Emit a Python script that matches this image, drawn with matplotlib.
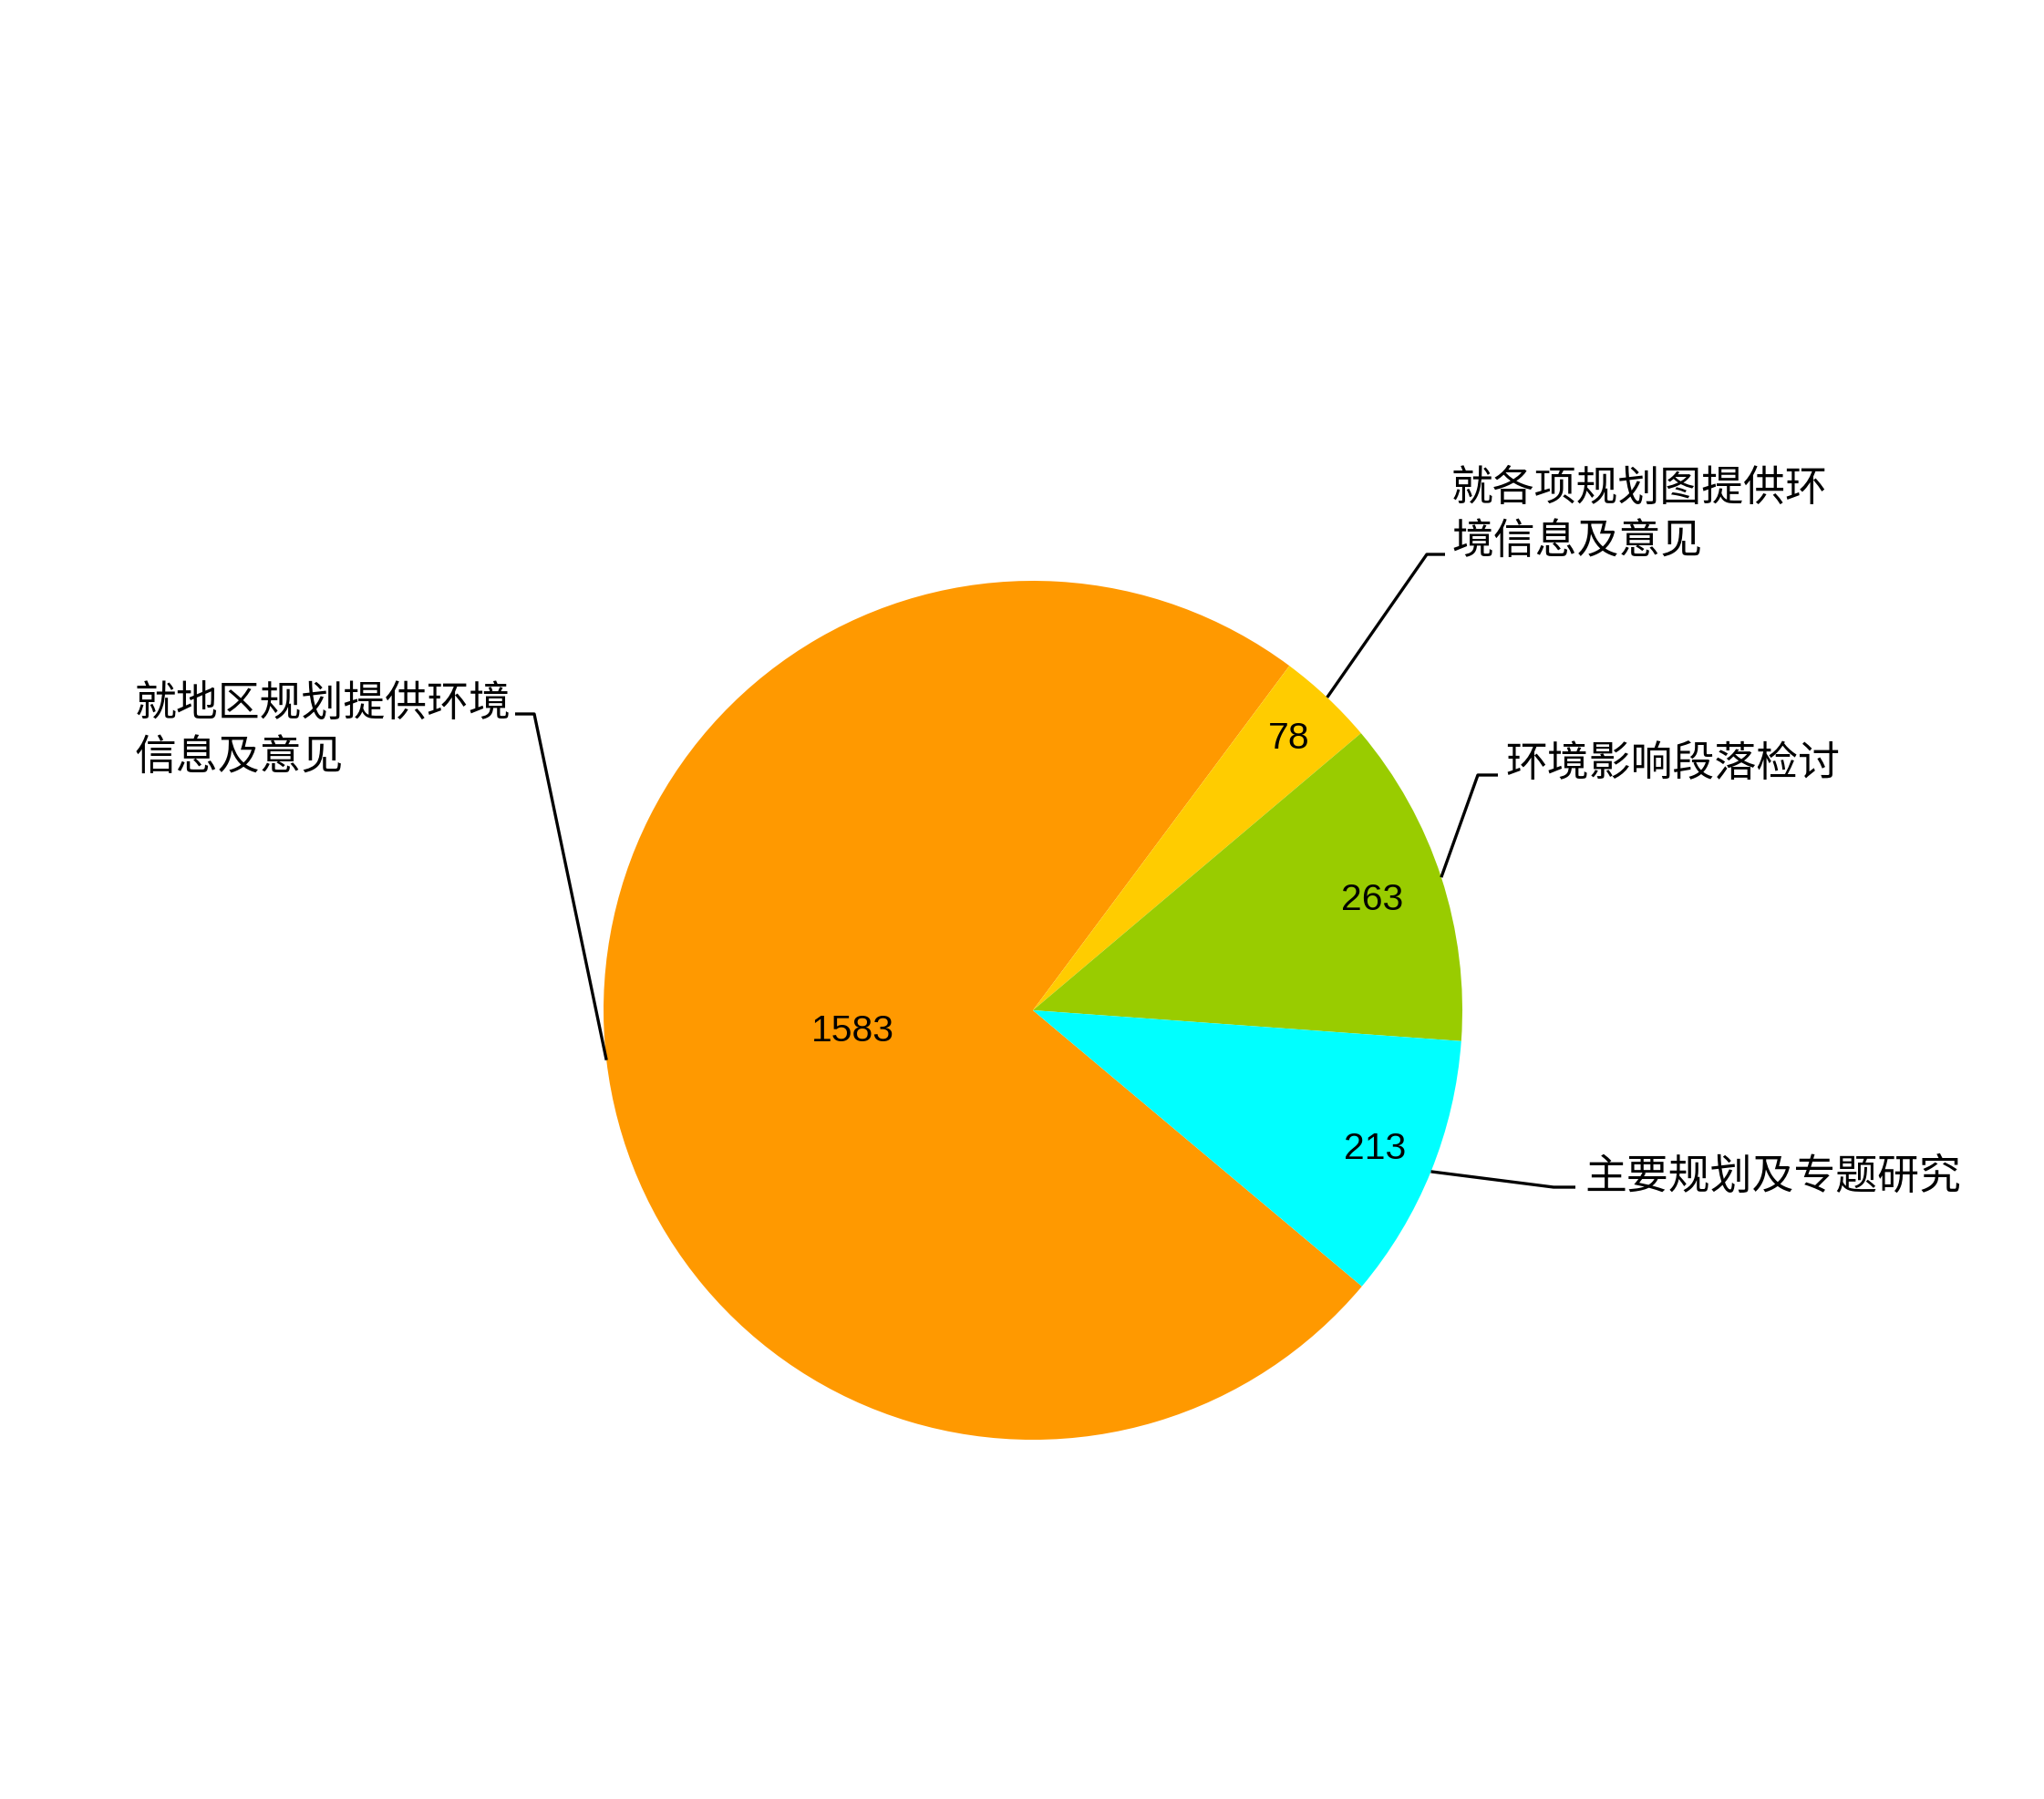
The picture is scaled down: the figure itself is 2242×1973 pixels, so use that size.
import numpy as np
import matplotlib
matplotlib.use("Agg")
import matplotlib.pyplot as plt

# data
categories = ["就地区规划提供环境\n信息及意见", "就各项规划图提供环\n境信息及意见",
              "环境影响段落检讨", "主要规划及专题研究"]
values = [1583, 78, 263, 213]
colors = ["#FF9900", "#FFCC00", "#99CC00", "#00FFFF"]

W, H = 2242, 1973
CX, CY, R = 1133, 1108, 471   # pie centre / radius in image pixels

# where the value sits, as a fraction of the radius
value_r = [0.423, 0.87, 0.83, 0.86]
# label layout in image pixels: elbow point, end of the short horizontal, text anchor
label_layout = [
    dict(elbow=(586, 783), hend=(565, 783), text=(148, 802)),
    dict(elbow=(1565, 608), hend=(1585, 608), text=(1592, 565)),
    dict(elbow=(1621, 850), hend=(1643, 850), text=(1651, 838)),
    dict(elbow=(1704, 1302), hend=(1728, 1302), text=(1738, 1291)),
]

cjk = ["Noto Sans CJK SC", "DejaVu Sans"]

fig = plt.figure(figsize=(W / 100, H / 100), dpi=100)
ax = fig.add_axes([0, 0, 1, 1])

wedges, _ = ax.pie(values, colors=colors, startangle=-40, counterclock=False,
                   center=(CX, H - CY), radius=R,
                   wedgeprops=dict(linewidth=0, antialiased=True))

for i, w in enumerate(wedges):
    mid = np.deg2rad((w.theta1 + w.theta2) / 2)
    # value inside the slice
    vr = value_r[i] * R
    ax.text(CX + vr * np.cos(mid), H - CY + vr * np.sin(mid), str(values[i]),
            ha="center", va="center", fontsize=29.5, family=["Liberation Sans", "DejaVu Sans"],
            color="black")
    # leader line from the slice edge
    lay = label_layout[i]
    ex, ey = CX + R * np.cos(mid), H - CY + R * np.sin(mid)
    xs = [ex, lay["elbow"][0], lay["hend"][0]]
    ys = [ey, H - lay["elbow"][1], H - lay["hend"][1]]
    ax.plot(xs, ys, color="black", lw=2.4, solid_capstyle="butt")
    tx, ty = lay["text"]
    ax.text(tx, H - ty, categories[i], ha="left", va="center", fontsize=33,
            family=cjk, fontweight="light", linespacing=1.25, color="black")

ax.set_xlim(0, W)
ax.set_ylim(0, H)
ax.set_aspect("equal")
ax.axis("off")

fig.savefig("out.png", dpi=100, facecolor="white")
